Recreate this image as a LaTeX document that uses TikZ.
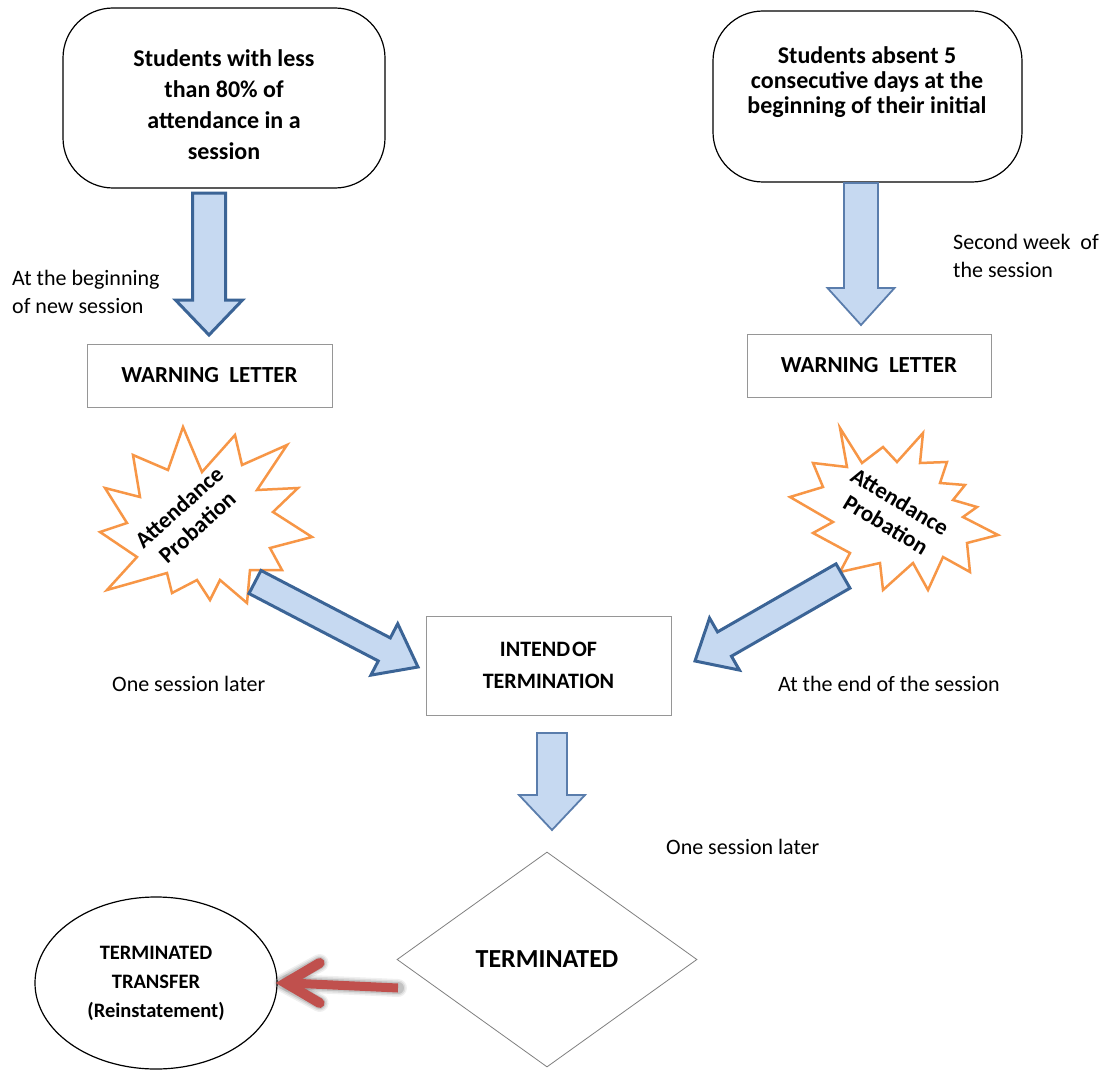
\documentclass[tikz,border=0pt]{standalone}
\usepackage{fontspec}
\setmainfont{Carlito}
\usetikzlibrary{shapes.geometric,calc}
\definecolor{afill}{RGB}{198,217,241}
\definecolor{adark}{RGB}{59,100,150}
\definecolor{amid}{RGB}{90,125,172}
\definecolor{burstc}{RGB}{247,150,70}
\definecolor{redarr}{RGB}{192,80,77}
\definecolor{boxgray}{RGB}{150,150,150}
\newcommand{\barrow}[6]{%
  \path (#2); \pgfgetlastxy{\bAx}{\bAy}%
  \path (#3); \pgfgetlastxy{\bBx}{\bBy}%
  \pgfmathsetmacro\bAng{atan2(\bBy-\bAy,\bBx-\bAx)}%
  \pgfmathsetmacro\bLen{veclen(\bBx-\bAx,\bBy-\bAy)}%
  \draw[#1, shift={(#2)}, rotate=\bAng, x=1pt, y=1pt] (0,-#4) -- ({\bLen-#6},-#4) -- ({\bLen-#6},-#5) -- (\bLen,0) -- ({\bLen-#6},#5) -- ({\bLen-#6},#4) -- (0,#4) -- cycle;%
}
\begin{document}
\begin{tikzpicture}[x=1pt,y=-1pt,
  rbox/.style={draw=black, line width=1.2pt, rounded corners=50pt},
  wbox/.style={draw=boxgray, line width=1pt, fill=white},
  bigtxt/.style={font=\fontsize{24}{31}\selectfont\bfseries, align=center, inner sep=0pt},
  lbl/.style={font=\fontsize{22}{28}\selectfont, anchor=west, align=left, inner sep=0pt},
  darkarrow/.style={fill=afill, draw=adark, line width=3pt, line join=miter},
  midarrow/.style={fill=afill, draw=amid, line width=1.8pt, line join=miter},
  burst/.style={fill=white, draw=burstc, line width=2.5pt, line join=miter},
  bursttxt/.style={font=\fontsize{23}{27}\selectfont\bfseries, align=center, inner sep=0pt}]
\useasboundingbox (0,0) rectangle (1106,1070);
\fill[white] (0,0) rectangle (1106,1070);

% top boxes
\node[rbox, minimum width=322pt, minimum height=180pt] (s1) at (224,98) {};
\node[bigtxt] (s1t) at (224,105) {Students with less\\than 80\% of\\attendance in a\\session};
\node[rbox, minimum width=309pt, minimum height=171pt] (s2) at (867.5,96.5) {};
\node[bigtxt, font=\fontsize{24}{25}\selectfont\bfseries] (s2t) at (867,82) {Students absent 5\\consecutive days at the\\beginning of their initial};

% warning letters
\node[wbox, minimum width=245pt, minimum height=63pt, font=\fontsize{23}{28}\selectfont\bfseries] (w1) at (209.5,375.5) {WARNING\ \ LETTER};
\node[wbox, minimum width=244pt, minimum height=63pt, font=\fontsize{23}{28}\selectfont\bfseries] (w2) at (869,365.5) {WARNING\ \ LETTER};

% down arrows from top boxes
\coordinate (a1s) at (209,193); \coordinate (a1e) at (209,335);
\coordinate (a2s) at (861,183); \coordinate (a2e) at (861,325);
\barrow{darkarrow}{a1s}{a1e}{16.5}{33.5}{35}
\barrow{midarrow}{a2s}{a2e}{17}{33.5}{37}

\node[lbl] (l1) at (12,292) {At the beginning\\of new session};
\node[lbl] (l2) at (953,256) {Second week\ \ of\\the session};

% starbursts
\draw[burst] (183,427) -- (202,472) -- (235,435) -- (242,465) -- (287,445) -- (257,490) -- (298,488) -- (273,512) -- (312,537) -- (270,548) -- (282,570) -- (250,570) -- (247,603) -- (220,580) -- (210,600) -- (197,580) -- (172,593) -- (167,573) -- (107,590) -- (137,557) -- (100,532) -- (127,523) -- (105,488) -- (140,497) -- (133,455) -- (168,470) -- cycle;
\node[bursttxt, rotate=42] (b1) at (188,517) {Attendance\\Probation};
\draw[burst] (840,428) -- (862,463) -- (883,447) -- (897,462) -- (923,433) -- (920,463) -- (947,462) -- (940,483) -- (965,485) -- (953,500) -- (977,507) -- (963,517) -- (998,535) -- (967,543) -- (970,572) -- (943,557) -- (928,590) -- (913,563) -- (883,590) -- (880,563) -- (840,572) -- (850,553) -- (813,533) -- (833,522) -- (790,497) -- (823,487) -- (813,463) -- (847,467) -- cycle;
\node[bursttxt, rotate=-31] (b2) at (893,513) {Attendance\\Probation};

% intend box
\node[wbox, minimum width=245pt, minimum height=99pt, align=center, font=\fontsize{22}{32}\selectfont\bfseries] (it) at (548.5,665.5) {INTEND\hspace{0.08em}OF\\TERMINATION};

% diagonal arrows
\coordinate (a4s) at (255,582); \coordinate (a4e) at (418,667);
\coordinate (a5s) at (843,576); \coordinate (a5e) at (695,661);
\barrow{darkarrow}{a4s}{a4e}{13}{29}{38}
\barrow{darkarrow}{a5s}{a5e}{14}{30}{34}

\node[lbl] (l3) at (112,684) {One session later};
\node[lbl] (l4) at (778,684) {At the end of the session};

% arrow to terminated
\coordinate (a3s) at (552,733); \coordinate (a3e) at (552,830);
\barrow{midarrow}{a3s}{a3e}{15}{33}{35}
\node[lbl] (l5) at (666,847) {One session later};

% diamond
\node[diamond, draw=gray, line width=0.8pt, minimum width=300pt, minimum height=215pt, inner sep=0pt, font=\fontsize{26}{30}\selectfont\bfseries] (dia) at (547,959.5) {TERMINATED};

% ellipse
\node[ellipse, draw=black, line width=1.2pt, minimum width=242pt, minimum height=172pt, inner sep=0pt, align=center, font=\fontsize{20.5}{29}\selectfont\bfseries] (ell) at (156,983) {TERMINATED\\TRANSFER\\(Reinstatement)};

% red arrow
\coordinate (rt) at (398,988);
\foreach \w/\o in {18/0.06,15/0.08,12/0.12} {
  \draw[black, opacity=\o, line width=\w pt, line cap=round, line join=round, shift={(2,3)}] (rt) -- ([xshift=12pt]ell.east);
  \draw[black, opacity=\o, line width=\w pt, line cap=round, line join=round, shift={(2,3)}] ([shift={(42,-20)}]ell.east) -- ([xshift=5pt]ell.east) -- ([shift={(42,20)}]ell.east);
}
\draw[redarr, line width=9pt] (rt) -- ([xshift=12pt]ell.east);
\draw[redarr, line width=10pt, line join=miter, line cap=round] ([shift={(42,-20)}]ell.east) -- ([xshift=8pt]ell.east) -- ([shift={(42,20)}]ell.east);
\end{tikzpicture}
\end{document}
